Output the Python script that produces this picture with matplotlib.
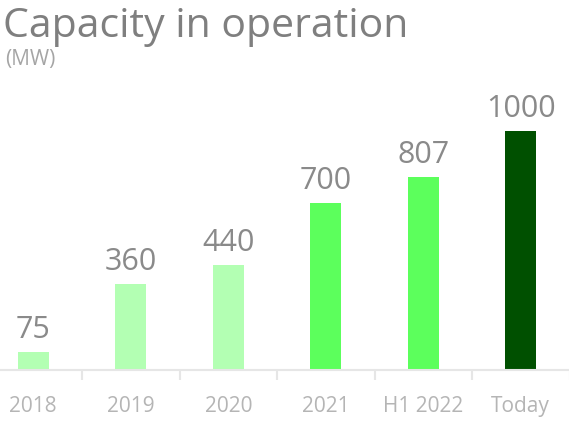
import matplotlib
matplotlib.use("Agg")
import matplotlib.pyplot as plt

# ── data ──────────────────────────────────────────────────────────────────────
categories = ["2018", "2019", "2020", "2021", "H1 2022", "Today"]
capacity   = [75, 360, 440, 700, 807, 1000]
bar_colors = ["#b3ffb3", "#b3ffb3", "#b3ffb3", "#5cff5c", "#5cff5c", "#005000"]

TITLE_C = "#7f7f7f"
LABEL_C = "#8a8a8a"
TICK_C  = "#b5b5b5"
LINE_C  = "#e6e6e6"

plt.rcParams["font.family"] = ["Open Sans", "DejaVu Sans"]

W, H = 569, 421
fig = plt.figure(figsize=(W / 100, H / 100), dpi=100)

# axes in pixel coords: baseline at y=370, category pitch 97.5 px
left_px, right_px = -15.5, 569.5
base_px, top_px = 370, 100
ax = fig.add_axes([left_px / W, (H - base_px) / H,
                   (right_px - left_px) / W, (base_px - top_px) / H])

x = range(len(categories))
bars = ax.bar(x, capacity, width=0.32, color=bar_colors)
ax.set_xlim(-0.5, len(categories) - 0.5)
ax.set_ylim(0, 1130)

for b, v in zip(bars, capacity):
    ax.text(b.get_x() + b.get_width() / 2, v + 28, f"{v}",
            ha="center", va="bottom", fontsize=22, color=LABEL_C)

for s in ["top", "right", "left"]:
    ax.spines[s].set_visible(False)
ax.spines["bottom"].set_color(LINE_C)
ax.spines["bottom"].set_linewidth(1.5)
ax.set_yticks([])

ax.set_xticks(list(x))
ax.set_xticklabels(categories, fontsize=15, color=TICK_C)
ax.tick_params(axis="x", length=0, pad=19)
ax.set_xticks([i + 0.5 for i in range(len(categories))], minor=True)
ax.tick_params(axis="x", which="minor", length=7, width=1.5, color=LINE_C)

fig.text(3 / W, 1 - 37 / H, "Capacity in operation", fontsize=29.5,
         color=TITLE_C, ha="left", va="baseline")
fig.text(5 / W, 1 - 65 / H, "(MW)", fontsize=15,
         color="#a5a5a5", ha="left", va="baseline")

fig.savefig("out.png", dpi=100)
